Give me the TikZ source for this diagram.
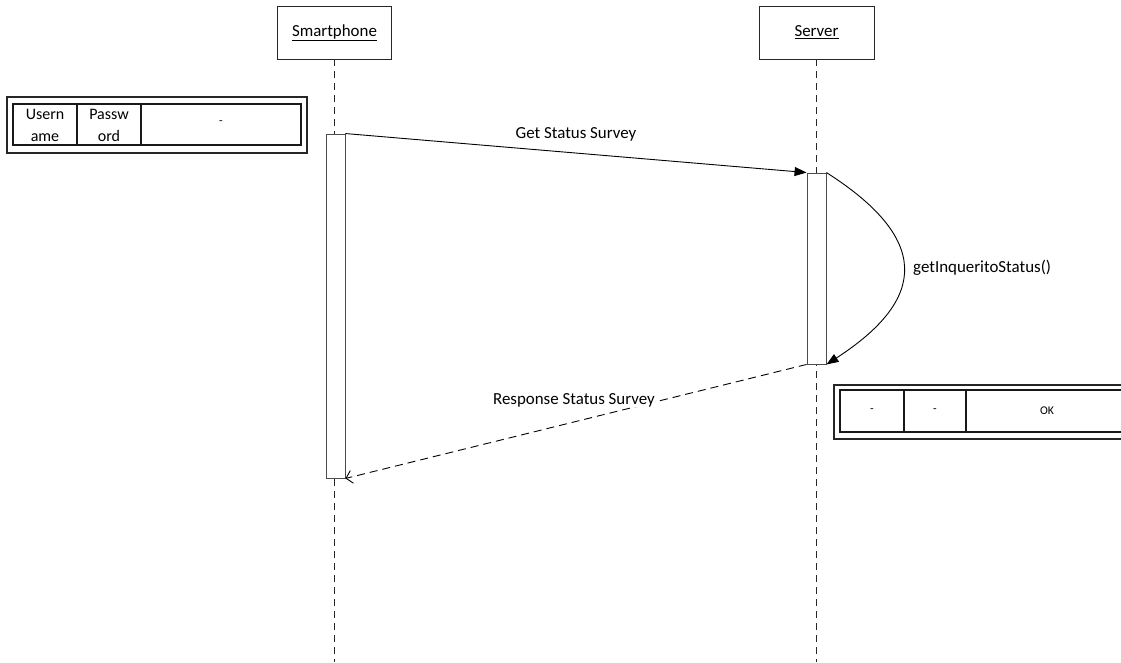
\documentclass[tikz,border=0pt]{standalone}
\usepackage{fontspec}
\setmainfont{Carlito}
\usetikzlibrary{arrows.meta}
\begin{document}
\begin{tikzpicture}[x=1pt,y=-1pt,
  hdr/.style={draw=black!85,line width=0.9pt,fill=white,minimum width=114pt,minimum height=53pt,inner sep=0pt,font=\fontsize{16.9}{20}\selectfont},
  act/.style={draw=black!70,line width=0.9pt,fill=white,minimum width=19pt,inner sep=0pt},
  life/.style={draw=black!85,line width=0.9pt,dash pattern=on 7pt off 5pt},
  msg/.style={line width=0.9pt,-{Triangle[length=12pt,width=9pt]}},
  ret/.style={line width=0.9pt,dash pattern=on 8pt off 5pt,-{Straight Barb[length=6pt,width=13pt]}},
  lbl/.style={font=\fontsize{16.9}{20}\selectfont,inner sep=1pt},
  cellbig/.style={font=\fontsize{16}{22}\selectfont,align=center},
  cellsmall/.style={font=\fontsize{11.8}{14}\selectfont}
]
\useasboundingbox (0,0) rectangle (1121,662);
\clip (0,0) rectangle (1121,662);
\fill[white] (0,0) rectangle (1121,662);

% headers
\node[hdr] (phone) at (334.5,32.5) {\underline{Smartphone}};
\node[hdr,minimum width=115pt] (server) at (816.5,32.5) {\underline{Server}};
\coordinate (phoneend) at (336,662);
\coordinate (serverend) at (817,662);
\draw[life] (phone.south) -- (phone.south |- phoneend);
\draw[life] (server.south) -- (server.south |- serverend);

% activations
\node[act,minimum height=344pt] (pact) at (335.5,306) {};
\node[act,minimum height=191pt] (sact) at (816.5,268.5) {};

% messages
\draw[msg] (pact.north east) -- (sact.north west)
  node[lbl,pos=0.5,above=10pt] (m1) {Get Status Survey};
\draw[msg] (sact.north east) .. controls (929,238) and (929,298) .. (sact.south east);
\node[lbl,anchor=west] (m2) at (912,268) {getInqueritoStatus()};
\draw[ret] (sact.south west) -- (pact.south east);
\node[lbl,fill=white,inner sep=0.5pt] (m3) at (574,400) {Response Status Survey};

% left data box
\draw[line width=1.4pt,draw=black!85] (7,97) rectangle (307,153);
\draw[line width=1.1pt,draw=black!90] (13,104) rectangle (301,145);
\draw[line width=1.1pt,draw=black!90] (77,104) -- (77,145) (141,104) -- (141,145);
\node[cellbig] (u) at (45,125) {Usern\\ame};
\node[cellbig] (p) at (109,125) {Passw\\ord};
\node[cellsmall] (d0) at (221,123) {-};

% right data box
\draw[line width=1.4pt,draw=black!85] (834,385) rectangle (1134,439);
\draw[line width=1.1pt,draw=black!90] (840,390) rectangle (1128,432);
\draw[line width=1.1pt,draw=black!90] (904,390) -- (904,432) (966,390) -- (966,432);
\node[cellsmall] (d1) at (872,411) {-};
\node[cellsmall] (d2) at (935,411) {-};
\node[cellsmall] (ok) at (1047,411) {OK};
\end{tikzpicture}
\end{document}
